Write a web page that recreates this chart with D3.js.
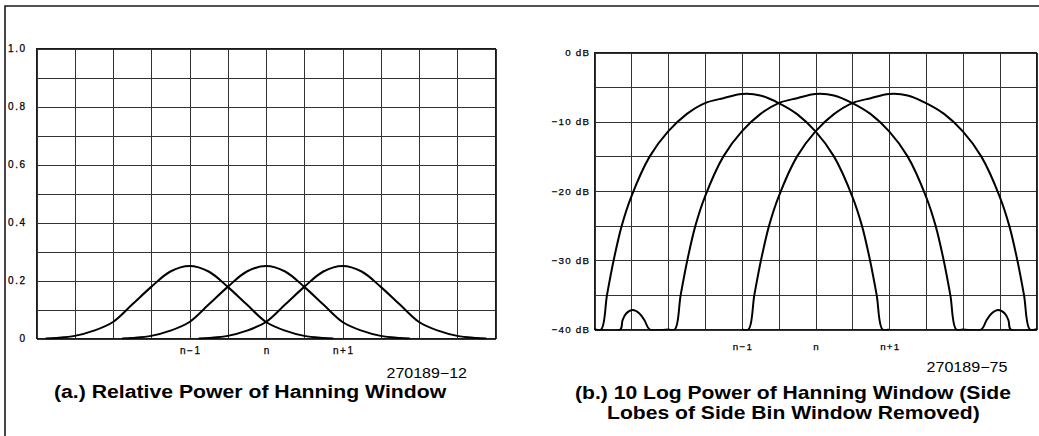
<!DOCTYPE html>
<html>
<head>
<meta charset="utf-8">
<script src="https://cdn.jsdelivr.net/npm/d3@7"></script>
<style>
  html, body { margin: 0; padding: 0; background: #fff; }
  svg { display: block; }
  text { font-family: "Liberation Sans", Arial, Helvetica, sans-serif; fill: #000; }
</style>
</head>
<body>
<svg id="fig" width="1039" height="436"></svg>
<script>
// Bin centres (in bins, relative to bin n) and their labels
const binCenters = [-1, 0, 1];
const binLabels = ["n\u22121", "n", "n+1"];

// (a) Relative power of the Hanning window vs. offset from its bin centre (bins)
const powerOffsets = [-1.88, -1.75, -1.5, -1.25, -1, -0.75, -0.5, -0.25, 0, 0.25, 0.5, 0.75, 1, 1.25, 1.5, 1.75, 1.88];
const powerValues  = [0, 0.002, 0.009, 0.027, 0.057, 0.117, 0.178, 0.231, 0.25, 0.231, 0.178, 0.117, 0.057, 0.027, 0.009, 0.002, 0];
const powerTicks = [0, 0.2, 0.4, 0.6, 0.8, 1.0];
const powerTickLabels = ["0", "0.2", "0.4", "0.6", "0.8", "1.0"];

// (b) 10 log power, main lobe (dB), clipped at -40 dB
const dbOffsets = [-2, -1.91, -1.83, -1.74, -1.63, -1.5, -1.25, -1, -0.75, -0.5, -0.25, 0, 0.25, 0.5, 0.75, 1, 1.25, 1.5, 1.63, 1.74, 1.83, 1.91, 2];
const dbValues  = [-40, -40, -35, -30, -25, -20.8, -15.0, -11.4, -8.9, -7.3, -6.6, -6.0, -6.2, -7.3, -8.9, -11.4, -15.0, -20.8, -25, -30, -35, -40, -40];
// side lobes, kept on the centre bin window only
const lobeLeftOffsets  = [-3, -2.65, -2.62, -2.57, -2.48, -2.39, -2.32, -2.25];
const lobeLeftDb       = [-40, -40, -38.7, -37.7, -37.2, -37.7, -38.7, -40];
const lobeRightOffsets = [2.25, 2.32, 2.39, 2.48, 2.57, 2.62, 2.65, 3];
const lobeRightDb      = [-40, -38.7, -37.7, -37.2, -37.7, -38.7, -40, -40];
const dbTicks = [0, -10, -20, -30, -40];
const dbTickLabels = ["0 dB", "\u221210 dB", "\u221220 dB", "\u221230 dB", "\u221240 dB"];

// grid spacing
const columnStep = 0.5;   // bins
const powerRowStep = 0.1;
const dbRowStep = 5;

const svg = d3.select("#fig");
const defs = svg.append("defs");

// outer frame (top and left rules)
svg.append("path")
  .attr("d", "M5,436 V6 H1039")
  .attr("fill", "none")
  .attr("stroke", "#1a1a1a")
  .attr("stroke-width", 1.6);

const zip = (xs, ys) => xs.map((o, i) => ({ o, v: ys[i] }));

function drawPanel(opt) {
  const { x, y, rows, tickVals, tickLabels, labelPad, labelSpacing, labelSize, xLabelPad } = opt;
  const g = svg.append("g");
  const [x0, x1] = x.range();
  const [y0, y1] = y.range();
  const cols = d3.range(x.domain()[0], x.domain()[1] + 1e-9, columnStep);

  // vertical grid
  g.append("g")
    .attr("transform", `translate(0,${y0})`)
    .call(d3.axisBottom(x).tickValues(cols).tickSize(-(y0 - y1)).tickFormat(""))
    .call(s => s.select(".domain").remove())
    .call(s => s.selectAll("line").attr("stroke", "#333").attr("shape-rendering", "crispEdges"));

  // horizontal grid
  g.append("g")
    .attr("transform", `translate(${x0},0)`)
    .call(d3.axisLeft(y).tickValues(rows).tickSize(-(x1 - x0)).tickFormat(""))
    .call(s => s.select(".domain").remove())
    .call(s => s.selectAll("line").attr("stroke", "#333").attr("shape-rendering", "crispEdges"));

  // frame
  g.append("rect")
    .attr("x", x0).attr("y", y1).attr("width", x1 - x0).attr("height", y0 - y1)
    .attr("fill", "none").attr("stroke", "#1a1a1a").attr("shape-rendering", "crispEdges");

  // y tick labels
  g.append("g")
    .attr("transform", `translate(${x0},0)`)
    .call(d3.axisLeft(y).tickValues(tickVals).tickFormat((d, i) => tickLabels[i]).tickSize(0).tickPadding(labelPad))
    .call(s => s.select(".domain").remove())
    .call(s => s.selectAll("text")
      .attr("font-size", labelSize)
      .attr("letter-spacing", labelSpacing)
      .attr("font-family", null)
      .attr("fill", "#000")
      .attr("stroke", "#000").attr("stroke-width", 0.25));

  // bin labels
  g.append("g")
    .attr("transform", `translate(0,${y0})`)
    .call(d3.axisBottom(x).tickValues(binCenters).tickFormat((d, i) => binLabels[i]).tickSize(0).tickPadding(xLabelPad))
    .call(s => s.select(".domain").remove())
    .call(s => s.selectAll("text")
      .attr("font-size", labelSize)
      .attr("letter-spacing", labelSpacing)
      .attr("dx", labelSpacing / 2)
      .attr("font-family", null)
      .attr("fill", "#000")
      .attr("stroke", "#000").attr("stroke-width", 0.25));

  // clip so curves never dip under the floor of the plot
  const id = "clip" + Math.round(x0);
  defs.append("clipPath").attr("id", id)
    .append("rect")
    .attr("x", x0).attr("y", y1 - 2).attr("width", x1 - x0).attr("height", y0 - y1 + 3);

  return g.append("g").attr("clip-path", `url(#${id})`);
}

// ---------- (a) relative power ----------
const xA = d3.scaleLinear().domain([-3, 3]).range([36.5, 495.5]);
const yA = d3.scaleLinear().domain([0, 1]).range([338.5, 48.5]);
const gA = drawPanel({
  x: xA, y: yA,
  rows: d3.range(0, 1 + 1e-9, powerRowStep),
  tickVals: powerTicks, tickLabels: powerTickLabels,
  labelPad: 10, labelSpacing: 1.5, labelSize: 10, xLabelPad: 8.5
});

const shapeA = zip(powerOffsets, powerValues);
binCenters.forEach(c => {
  gA.append("path")
    .datum(shapeA)
    .attr("fill", "none")
    .attr("stroke", "#000")
    .attr("stroke-width", 2)
    .attr("stroke-linejoin", "round")
    .attr("d", d3.line().x(d => xA(c + d.o)).y(d => yA(d.v)).curve(d3.curveCatmullRom.alpha(0.5)));
});

// ---------- (b) 10 log power ----------
const xB = d3.scaleLinear().domain([-3, 3]).range([594.5, 1036.5]);
const yB = d3.scaleLinear().domain([-40, 0]).range([329.5, 52.5]);
const gB = drawPanel({
  x: xB, y: yB,
  rows: d3.range(-40, 0 + 1e-9, dbRowStep),
  tickVals: dbTicks, tickLabels: dbTickLabels,
  labelPad: 4.3, labelSpacing: 1.2, labelSize: 9.8, xLabelPad: 14
});

const mainB = zip(dbOffsets, dbValues);
const centreB = zip(lobeLeftOffsets, lobeLeftDb).concat(mainB, zip(lobeRightOffsets, lobeRightDb));
binCenters.forEach(c => {
  gB.append("path")
    .datum(c === 0 ? centreB : mainB)
    .attr("fill", "none")
    .attr("stroke", "#000")
    .attr("stroke-width", 2)
    .attr("stroke-linejoin", "round")
    .attr("d", d3.line().x(d => xB(c + d.o)).y(d => yB(d.v)).curve(d3.curveCatmullRom.alpha(0.5)));
});

// ---------- figure numbers and captions ----------
// Each caption is set in its font, then widened horizontally to its column width.
function label(txt, left, right, baseline, size, weight) {
  const t = svg.append("text")
    .attr("x", 0).attr("y", 0)
    .attr("font-size", size)
    .attr("font-weight", weight)
    .text(txt);
  const w = t.node().getComputedTextLength();
  const k = (right - left) / w;
  t.attr("transform", `translate(${left},${baseline}) scale(${k},1)`);
  return t;
}

label("270189\u221212", 386.5, 467, 378.3, 14, "normal");
label("(a.) Relative Power of Hanning Window", 54, 446.5, 398, 19, "bold");

label("270189\u221275", 926.5, 1007.5, 372.3, 14, "normal");
label("(b.) 10 Log Power of Hanning Window (Side", 575, 1011, 398.5, 19, "bold");
label("Lobes of Side Bin Window Removed)", 607, 980, 418.5, 19, "bold");
</script>
</body>
</html>
